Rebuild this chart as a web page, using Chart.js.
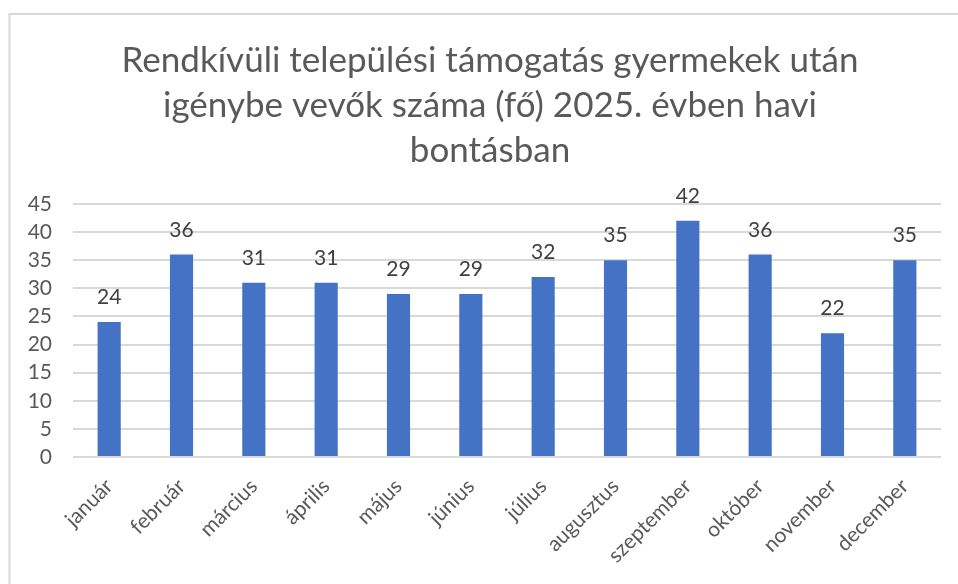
<!DOCTYPE html>
<html>
<head>
<meta charset="utf-8">
<script src="https://cdn.jsdelivr.net/npm/chart.js@4"></script>
<style>
html,body{margin:0;padding:0;background:#fff;}
#wrap{position:relative;width:958px;height:584px;}
</style>
</head>
<body>
<div id="wrap"><canvas id="c" width="958" height="584"></canvas></div>
<script>
const titleLines = ["Rendkívüli települési támogatás gyermekek után", "igénybe vevők száma (fő) 2025. évben havi", "bontásban"];
const months = ["január","február","március","április","május","június","július","augusztus","szeptember","október","november","december"];
const counts = [24,36,31,31,29,29,32,35,42,36,22,35];
const yTicks = [0,5,10,15,20,25,30,35,40,45];

const FONT = "Lato, 'Open Sans', sans-serif";

const framePlugin = {
  id: 'frame',
  beforeDraw(chart) {
    const ctx = chart.ctx;
    ctx.save();
    ctx.fillStyle = '#fff';
    ctx.fillRect(0, 0, chart.width, chart.height);
    ctx.strokeStyle = '#d9d9d9';
    ctx.lineWidth = 2;
    ctx.beginPath();
    ctx.moveTo(9.5, chart.height + 2);
    ctx.lineTo(9.5, 14);
    ctx.lineTo(chart.width + 2, 14);
    ctx.stroke();
    ctx.restore();
  }
};

const titlePlugin = {
  id: 'centeredTitle',
  afterDraw(chart) {
    const ctx = chart.ctx;
    ctx.save();
    ctx.font = "35px " + FONT;
    ctx.fillStyle = '#595959';
    ctx.textAlign = 'center';
    ctx.textBaseline = 'middle';
    titleLines.forEach((line, i) => {
      ctx.fillText(line, 490, 61 + i * 45);
    });
    ctx.restore();
  }
};

const labelPlugin = {
  id: 'valueLabels',
  afterDatasetsDraw(chart) {
    const ctx = chart.ctx;
    const meta = chart.getDatasetMeta(0);
    ctx.save();
    ctx.font = "21px " + FONT;
    ctx.fillStyle = '#404040';
    ctx.textAlign = 'center';
    ctx.textBaseline = 'alphabetic';
    meta.data.forEach((bar, i) => {
      ctx.fillText(String(chart.data.datasets[0].data[i]), bar.x, bar.y - 18);
    });
    ctx.restore();
  }
};

new Chart(document.getElementById('c'), {
  type: 'bar',
  data: {
    labels: months,
    datasets: [{
      data: counts,
      backgroundColor: '#4472C4',
      borderWidth: 0,
      categoryPercentage: 1,
      barPercentage: 0.32
    }]
  },
  options: {
    responsive: false,
    animation: false,
    devicePixelRatio: 1,
    layout: { padding: { top: 204, left: 0, right: 17, bottom: 0 } },
    plugins: {
      legend: { display: false },
      tooltip: { enabled: false },
      title: { display: false }
    },
    scales: {
      x: {
        grid: { display: false, drawTicks: false },
        border: { display: false },
        afterFit(scale) { scale.height = 127; },
        ticks: {
          color: '#595959',
          font: { family: FONT, size: 21 },
          minRotation: 45,
          maxRotation: 45,
          autoSkip: false,
          padding: 17
        }
      },
      y: {
        min: 0,
        max: 45,
        afterFit(scale) { scale.width = 73; },
        afterBuildTicks(scale) { scale.ticks = yTicks.map(v => ({ value: v })); },
        grid: { color: '#d9d9d9', lineWidth: 2, drawTicks: false },
        border: { display: false },
        ticks: {
          color: '#595959',
          font: { family: FONT, size: 21 },
          padding: 21,
          autoSkip: false
        }
      }
    }
  },
  plugins: [framePlugin, labelPlugin, titlePlugin]
});
</script>
</body>
</html>
